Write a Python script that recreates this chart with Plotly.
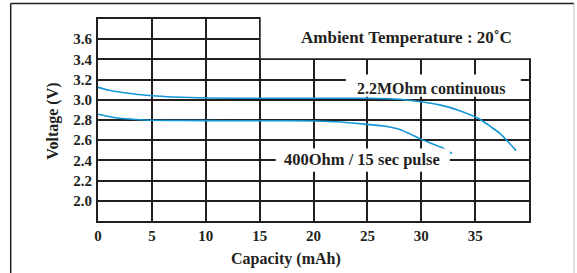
import plotly.graph_objects as go

# ---- data ----
cont_cap = [0, 1, 2, 3.5, 5, 7, 10, 15, 20, 25, 27, 28, 30, 31.7, 33.5, 35.4, 36.5, 37.3, 38.1, 38.8]
cont_v = [3.123, 3.095, 3.077, 3.055, 3.04, 3.028, 3.018, 3.015, 3.015, 3.015, 3.01, 3.005, 2.98, 2.95, 2.895, 2.81, 2.73, 2.667, 2.58, 2.497]

pulse_cap = [0, 1, 2, 3.5, 5, 8, 12, 16, 20, 22.5, 24.9, 26.5, 28.0, 29.0, 29.9, 31.9, 32.65, 32.85]
pulse_v = [2.857, 2.835, 2.817, 2.805, 2.797, 2.795, 2.793, 2.793, 2.79, 2.78, 2.757, 2.74, 2.707, 2.66, 2.613, 2.527, 2.48, 2.47]

x_ticks = [0, 5, 10, 15, 20, 25, 30, 35]
x_labels = ["0", "5", "10", "15", "20", "25", "30", "35"]
y_ticks = [2.0, 2.2, 2.4, 2.6, 2.8, 3.0, 3.2, 3.4, 3.6]
y_labels = ["2.0", "2.2", "2.4", "2.6", "2.8", "3.0", "3.2", "3.4", "3.6"]

label_cont = "2.2MOhm continuous"
label_pulse = "400Ohm / 15 sec pulse"
title_text = "Ambient Temperature : 20\u02daC"

INK = "#231f20"
BLUE = "#1396d8"
FONT = "Liberation Serif"

# plot-area pixel geometry
L, R, T, B = 98, 529, 19, 220.7
PW, PH = R - L, B - T
X_RANGE = [0, 40]
Y_RANGE = [1.8, 3.8]


def px(x):
    return (x - L) / PW


def py(y):
    return (B - y) / PH


def dx(v):
    return (v - X_RANGE[0]) / (X_RANGE[1] - X_RANGE[0])


def dy(v):
    return (v - Y_RANGE[0]) / (Y_RANGE[1] - Y_RANGE[0])


fig = go.Figure()
fig.add_trace(go.Scatter(x=cont_cap, y=cont_v, mode="lines",
                         line=dict(color=BLUE, width=1.6, shape="spline", smoothing=0.6),
                         showlegend=False, hoverinfo="skip"))
fig.add_trace(go.Scatter(x=pulse_cap, y=pulse_v, mode="lines",
                         line=dict(color=BLUE, width=1.6, shape="spline", smoothing=0.6),
                         showlegend=False, hoverinfo="skip"))

shapes = [
    # blank top-right region of grid (paper refs so it is not clipped)
    dict(type="rect", xref="paper", yref="paper", x0=dx(15.1), x1=1.02, y0=dy(3.411), y1=1.05,
         fillcolor="white", line=dict(width=0), layer="above"),
    # label backgrounds
    dict(type="rect", xref="x", yref="y", x0=23.0, x1=39.24, y0=3.03, y1=3.25,
         fillcolor="white", line=dict(width=0), layer="above"),
    dict(type="rect", xref="x", yref="y", x0=16.5, x1=32.65, y0=2.287, y1=2.517,
         fillcolor="white", line=dict(width=0), layer="above"),
    # outer frame
    dict(type="line", xref="paper", yref="paper", x0=px(10.7), x1=px(10.7), y0=py(3.5), y1=py(300),
         line=dict(color=INK, width=1.5)),
    dict(type="line", xref="paper", yref="paper", x0=px(10.7), x1=px(574), y0=py(3.5), y1=py(3.5),
         line=dict(color=INK, width=1.5)),
    dict(type="line", xref="paper", yref="paper", x0=px(574), x1=px(574), y0=py(3.5), y1=py(300),
         line=dict(color="#c8c8c8", width=1)),
]

annotations = [
    dict(text="<b>" + label_cont + "</b>", x=30.9, y=3.115, xref="x", yref="y",
         xanchor="center", yanchor="middle",
         showarrow=False, font=dict(family=FONT, size=16, color=INK)),
    dict(text="<b>" + label_pulse + "</b>", x=24.53, y=2.405, xref="x", yref="y",
         xanchor="center", yanchor="middle",
         showarrow=False, font=dict(family=FONT, size=16.5, color=INK)),
    dict(text="<b>" + title_text + "</b>", x=px(406.7), y=py(37.5), xref="paper", yref="paper",
         xanchor="center", yanchor="middle",
         showarrow=False, font=dict(family=FONT, size=17, color=INK)),
    dict(text="<b>Capacity (mAh)</b>", x=px(286), y=py(258.5),
         xref="paper", yref="paper", xanchor="center", yanchor="middle",
         showarrow=False, font=dict(family=FONT, size=16, color=INK)),
    dict(text="<b>Voltage (V)</b>", x=px(53.5), y=py(121),
         xref="paper", yref="paper", xanchor="center", yanchor="middle",
         showarrow=False, textangle=-90,
         font=dict(family=FONT, size=16, color=INK)),
]

fig.update_layout(
    width=577, height=273,
    margin=dict(l=L, r=577 - R, t=T, b=273 - B),
    paper_bgcolor="white", plot_bgcolor="white",
    shapes=shapes, annotations=annotations,
    xaxis=dict(range=X_RANGE, tickvals=x_ticks, ticktext=x_labels,
               showgrid=True, gridcolor=INK, gridwidth=2, zeroline=False,
               showline=True, linecolor=INK, linewidth=2, mirror=True,
               ticks="", ticklabelstandoff=0,
               tickfont=dict(family=FONT, size=15, color=INK, weight="bold")),
    yaxis=dict(range=Y_RANGE, tickvals=y_ticks, ticktext=y_labels,
               showgrid=True, gridcolor=INK, gridwidth=2, zeroline=False,
               showline=True, linecolor=INK, linewidth=2, mirror=True,
               ticks="", ticklabelstandoff=1,
               tickfont=dict(family=FONT, size=15, color=INK, weight="bold")),
)

fig.write_html("out.html",
               config={"displayModeBar": False},
               post_script="document.body.style.margin='0';document.body.style.padding='0';"
                           "document.body.style.overflow='hidden';")
